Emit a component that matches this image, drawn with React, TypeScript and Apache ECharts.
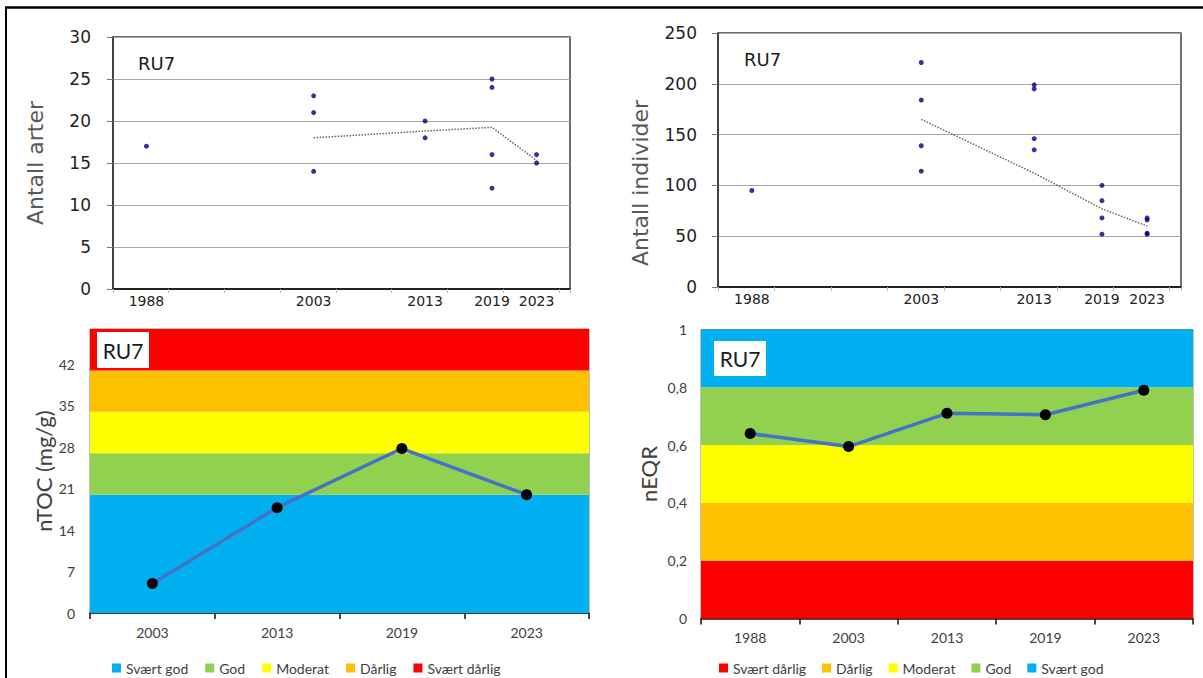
import React, { useEffect, useRef } from "react";
import * as echarts from "echarts";

// ---- Data ----
const scatterXMin = 1985;
const scatterXMax = 2026;
const scatterYearLabels = [1988, 2003, 2013, 2019, 2023];

const arterYears = [1988, 2003, 2003, 2003, 2013, 2013, 2019, 2019, 2019, 2019, 2023, 2023];
const arterValues = [17, 23, 21, 14, 20, 18, 25, 24, 16, 12, 16, 15];
const arterTrendYears = [2003, 2013, 2019, 2023];
const arterTrendValues = [18, 18.8, 19.25, 15.3];

const indYears = [1988, 2003, 2003, 2003, 2003, 2013, 2013, 2013, 2013, 2019, 2019, 2019, 2019, 2023, 2023, 2023, 2023];
const indValues = [95, 221, 184, 139, 114, 199, 195, 146, 135, 100, 85, 68, 52, 68, 66, 53, 52];
const indTrendYears = [2003, 2013, 2019, 2023];
const indTrendValues = [165, 112, 77, 60];

const tocCategories = ["2003", "2013", "2019", "2023"];
const tocValues = [5, 17.8, 27.8, 20];
const tocBounds = [0, 20, 27, 34, 41, 48];
const tocClassNames = ["Svært god", "God", "Moderat", "Dårlig", "Svært dårlig"];

const eqrCategories = ["1988", "2003", "2013", "2019", "2023"];
const eqrValues = [0.64, 0.595, 0.71, 0.705, 0.79];
const eqrBounds = [0, 0.2, 0.4, 0.6, 0.8, 1.0];
const eqrClassNames = ["Svært dårlig", "Dårlig", "Moderat", "God", "Svært god"];

const classColors: Record<string, string> = {
  "Svært god": "#00B0F0",
  God: "#92D050",
  Moderat: "#FFFF00",
  "Dårlig": "#FFC000",
  "Svært dårlig": "#FF0000",
};

const FT = '"DejaVu Sans", sans-serif';
const FB = 'Lato, sans-serif';

function bands(bounds: number[], names: string[]) {
  return names.map((n, i) => [
    { yAxis: bounds[i], itemStyle: { color: classColors[n], opacity: 1 } },
    { yAxis: bounds[i + 1] },
  ]);
}

function topYAxis(grid: number, max: number, interval: number, name: string, gap: number, margin: number, padding: number[]) {
  return {
    gridIndex: grid,
    type: "value",
    min: 0,
    max,
    interval,
    name,
    nameLocation: "middle",
    nameRotate: 90,
    nameGap: gap,
    nameTextStyle: { fontFamily: FT, fontSize: 22, color: "#595959", padding },
    axisLine: { show: true, lineStyle: { color: "#333", width: 1.5 } },
    axisTick: { show: true, length: 6, lineStyle: { color: "#777" } },
    axisLabel: { fontFamily: FT, fontSize: 17, color: "#1f1f1f", margin },
    splitLine: { show: true, lineStyle: { color: "#a6a6a6", width: 1 } },
  };
}

function topXAxes(grid: number) {
  return [
    {
      gridIndex: grid,
      type: "value",
      min: scatterXMin,
      max: scatterXMax,
      interval: 5,
      axisLine: { show: true, onZero: false, lineStyle: { color: "#222", width: 2 } },
      axisTick: { show: true, length: 4, lineStyle: { color: "#bbb" } },
      axisLabel: { show: false },
      splitLine: { show: false },
    },
    {
      gridIndex: grid,
      type: "value",
      position: "bottom",
      min: scatterXMin,
      max: scatterXMax,
      interval: 1,
      axisLine: { show: false },
      axisTick: { show: false },
      splitLine: { show: false },
      axisLabel: {
        fontFamily: FT,
        fontSize: 14,
        color: "#222",
        margin: 5,
        formatter: (v: number) => (scatterYearLabels.includes(v) ? String(v) : ""),
      },
    },
  ];
}

function bottomXAxis(grid: number, cats: string[]) {
  return {
    gridIndex: grid,
    type: "category",
    data: cats,
    boundaryGap: true,
    axisLine: { show: true, lineStyle: { color: "#111", width: 1.5 } },
    axisTick: { show: true, length: 6, lineStyle: { color: "#111", width: 1.5 } },
    axisLabel: { fontFamily: FB, fontSize: 14, color: "#404040", margin: 12 },
    splitLine: { show: false },
  };
}

export default function App() {
  const ref = useRef<HTMLDivElement>(null);

  useEffect(() => {
    if (!ref.current) return;
    const chart = echarts.init(ref.current, null, { renderer: "svg" });

    const option: any = {
      animation: false,
      backgroundColor: "#ffffff",
      grid: [
        { left: 113, top: 37, width: 457, height: 252, show: true, borderColor: "#404040", borderWidth: 1.5, backgroundColor: "transparent" },
        { left: 718, top: 33, width: 463, height: 254, show: true, borderColor: "#404040", borderWidth: 1.5, backgroundColor: "transparent" },
        { left: 90, top: 329, width: 499, height: 284, show: true, borderColor: "#808080", borderWidth: 1, backgroundColor: "transparent" },
        { left: 701, top: 329.5, width: 492, height: 289, show: true, borderColor: "#808080", borderWidth: 1, backgroundColor: "transparent" },
      ],
      xAxis: [
        ...topXAxes(0),
        ...topXAxes(1),
        bottomXAxis(2, tocCategories),
        bottomXAxis(3, eqrCategories),
      ],
      yAxis: [
        topYAxis(0, 30, 5, "Antall arter", 67, 22, [0, 0, 0, 0]),
        topYAxis(1, 250, 50, "Antall individer", 67, 21, [0, 46, 0, 0]),
        {
          gridIndex: 2,
          type: "value",
          min: 0,
          max: 48,
          interval: 7,
          name: "nTOC (mg/g)",
          nameLocation: "middle",
          nameRotate: 90,
          nameGap: 34,
          nameTextStyle: { fontFamily: FB, fontSize: 22, color: "#404040" },
          axisLine: { show: false },
          axisTick: { show: false },
          axisLabel: { fontFamily: FB, fontSize: 14, color: "#404040", margin: 15, showMaxLabel: false },
          splitLine: { show: false },
        },
        {
          gridIndex: 3,
          type: "value",
          min: 0,
          max: 1,
          interval: 0.2,
          name: "nEQR",
          nameLocation: "middle",
          nameRotate: 90,
          nameGap: 42,
          nameTextStyle: { fontFamily: FB, fontSize: 22, color: "#404040" },
          axisLine: { show: false },
          axisTick: { show: false },
          axisLabel: {
            fontFamily: FB,
            fontSize: 14,
            color: "#404040",
            margin: 14,
            formatter: (v: number) => String(Math.round(v * 10) / 10).replace(".", ","),
          },
          splitLine: { show: false },
        },
      ],
      legend: [
        {
          left: 107,
          top: 656,
          data: tocClassNames,
          icon: "rect",
          itemWidth: 9,
          itemHeight: 9,
          itemGap: 17,
          textStyle: { fontFamily: FB, fontSize: 14, color: "#404040" },
          selectedMode: false,
        },
        {
          left: 714,
          top: 656,
          data: eqrClassNames,
          icon: "rect",
          itemWidth: 9,
          itemHeight: 9,
          itemGap: 16,
          textStyle: { fontFamily: FB, fontSize: 14, color: "#404040" },
          selectedMode: false,
        },
      ],
      series: [
        // legend-only series
        ...tocClassNames.map((n) => ({
          name: n,
          type: "bar",
          xAxisIndex: 4,
          yAxisIndex: 2,
          data: [],
          itemStyle: { color: classColors[n] },
        })),
        {
          name: "arter",
          type: "scatter",
          xAxisIndex: 0,
          yAxisIndex: 0,
          symbol: "circle",
          symbolSize: 5,
          itemStyle: { color: "#00007f" },
          data: arterYears.map((y, i) => [y, arterValues[i]]),
          z: 5,
        },
        {
          name: "arterTrend",
          type: "line",
          xAxisIndex: 0,
          yAxisIndex: 0,
          symbol: "none",
          lineStyle: { color: "#666", width: 1.5, type: "dotted" },
          data: arterTrendYears.map((y, i) => [y, arterTrendValues[i]]),
        },
        {
          name: "individer",
          type: "scatter",
          xAxisIndex: 2,
          yAxisIndex: 1,
          symbol: "circle",
          symbolSize: 5,
          itemStyle: { color: "#00007f" },
          data: indYears.map((y, i) => [y, indValues[i]]),
          z: 5,
        },
        {
          name: "indTrend",
          type: "line",
          xAxisIndex: 2,
          yAxisIndex: 1,
          symbol: "none",
          lineStyle: { color: "#666", width: 1.5, type: "dotted" },
          data: indTrendYears.map((y, i) => [y, indTrendValues[i]]),
        },
        {
          name: "nTOC",
          type: "line",
          xAxisIndex: 4,
          yAxisIndex: 2,
          data: tocValues,
          symbol: "circle",
          symbolSize: 11,
          itemStyle: { color: "#000" },
          lineStyle: { color: "#4472C4", width: 3.5 },
          markArea: { silent: true, data: bands(tocBounds, tocClassNames) },
          z: 3,
        },
        {
          name: "nEQR",
          type: "line",
          xAxisIndex: 5,
          yAxisIndex: 3,
          data: eqrValues,
          symbol: "circle",
          symbolSize: 11,
          itemStyle: { color: "#000" },
          lineStyle: { color: "#4472C4", width: 3.5 },
          markArea: { silent: true, data: bands(eqrBounds, eqrClassNames) },
          z: 3,
        },
      ],
      graphic: [
        { type: "line", shape: { x1: 5, y1: 7.5, x2: 1203, y2: 7.5 }, style: { stroke: "#000", lineWidth: 2.5 } },
        { type: "line", shape: { x1: 6, y1: 7, x2: 6, y2: 678 }, style: { stroke: "#000", lineWidth: 2 } },
        { type: "text", left: 138, top: 54, style: { text: "RU7", fontFamily: FT, fontSize: 18, fill: "#1a1a1a" } },
        { type: "text", left: 744, top: 50, style: { text: "RU7", fontFamily: FT, fontSize: 18, fill: "#1a1a1a" } },
        { type: "rect", shape: { x: 97, y: 332, width: 52, height: 36 }, style: { fill: "#fff" }, z: 10 },
        { type: "text", x: 123, y: 350, style: { text: "RU7", fontFamily: FB, fontSize: 21, fill: "#1a1a1a", align: "center", verticalAlign: "middle" }, z: 11 },
        { type: "rect", shape: { x: 714, y: 341, width: 52, height: 35 }, style: { fill: "#fff" }, z: 10 },
        { type: "text", x: 740, y: 358.5, style: { text: "RU7", fontFamily: FB, fontSize: 21, fill: "#1a1a1a", align: "center", verticalAlign: "middle" }, z: 11 },
      ],
    };

    chart.setOption(option);
    return () => chart.dispose();
  }, []);

  return (
    <div
      ref={ref}
      style={{ position: "absolute", left: 0, top: 0, width: 1203, height: 678, background: "#fff" }}
    />
  );
}
